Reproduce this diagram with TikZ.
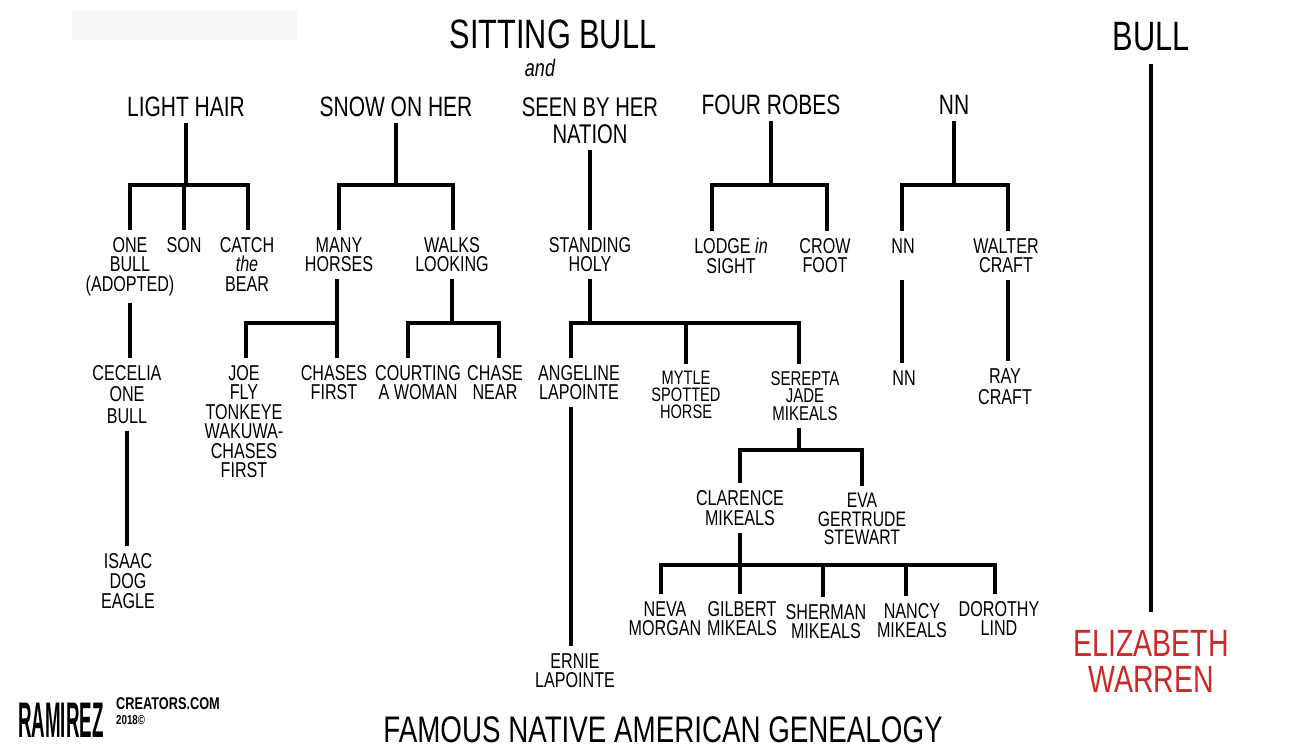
\documentclass[tikz,border=0pt]{standalone}
\usepackage{fontspec}
\usepackage{graphicx}
\setmainfont{Liberation Sans}[FakeStretch=0.75]
\usetikzlibrary{positioning}
\definecolor{warrenred}{RGB}{204,42,38}
\newcommand{\titlesize}{\fontsize{41}{41}\selectfont}
\newcommand{\eldersize}{\fontsize{28}{25}\selectfont}
\newcommand{\kinsize}{\fontsize{21.5}{19.5}\selectfont}
\tikzset{
  bond/.style={line width=4pt},
  headline/.style={font=\titlesize, anchor=north, inner sep=0pt},
  elder/.style={font=\eldersize, align=center, anchor=north, inner xsep=1pt, inner ysep=6pt},
  kin/.style={font=\kinsize, align=center, anchor=north, inner xsep=1pt, inner ysep=7pt},
}

\begin{document}
\begin{tikzpicture}[x=1pt,y=-1pt]
\useasboundingbox (0,0) rectangle (1309,748);
\fill[black!3] (72,10) rectangle (297,40);

\node[headline] (sitting) at (553,20) {SITTING BULL};
\node[font=\fontsize{24}{24}\selectfont\itshape] (and) at (540,68) {and};
\node[headline,inner ysep=13pt] (bull) at (1151,9) {BULL};
\node[headline,inner ysep=18pt,font=\fontsize{38}{36}\selectfont,align=center,text=warrenred] (warren) at (1151,612) {ELIZABETH\\WARREN};
\draw[bond] (bull.south) -- (warren.north);

\node[elder] (lighthair) at (186,91) {LIGHT HAIR};
\node[elder] (snow) at (396,91) {SNOW ON HER};
\node[elder,font=\fontsize{27}{27}\selectfont] (seen) at (590,91) {SEEN BY HER\\NATION};
\node[elder] (fourrobes) at (771,89) {FOUR ROBES};
\node[elder] (nn) at (954,89) {NN};

\node[kin] (onebull) at (130,230) {ONE\\BULL\\(ADOPTED)};
\node[kin] (son) at (184,230) {SON};
\node[kin] (catch) at (247,230) {CATCH\\\textit{the}\\BEAR};
\node[kin] (many) at (339,230) {MANY\\HORSES};
\node[kin] (walks) at (452,230) {WALKS\\LOOKING};
\node[kin] (standing) at (590,230) {STANDING\\HOLY};
\node[kin] (lodge) at (731,231) {LODGE \textit{in}\\SIGHT};
\node[kin] (crow) at (825,231) {CROW\\FOOT};
\node[kin] (nn2) at (903,231) {NN};
\node[kin] (walter) at (1006,231) {WALTER\\CRAFT};

\node[kin,font=\fontsize{21.5}{21.5}\selectfont] (cecelia) at (127,358) {CECELIA\\ONE\\BULL};
\node[kin,font=\fontsize{21.5}{20}\selectfont] (isaac) at (128,546) {ISAAC\\DOG\\EAGLE};
\node[kin] (joe) at (244,358) {JOE\\FLY\\TONKEYE\\WAKUWA-\\CHASES\\FIRST};
\node[kin] (chasesfirst) at (334,358) {CHASES\\FIRST};
\node[kin] (courting) at (418,358) {COURTING\\A WOMAN};
\node[kin] (chasenear) at (495,358) {CHASE\\NEAR};
\node[kin] (angeline) at (579,358) {ANGELINE\\LAPOINTE};
\node[kin] (ernie) at (575,646) {ERNIE\\LAPOINTE};
\node[kin,font=\fontsize{19.5}{17}\selectfont] (mytle) at (686,364) {MYTLE\\SPOTTED\\HORSE};
\node[kin,font=\fontsize{20}{17.5}\selectfont] (serepta) at (805,364) {SEREPTA\\JADE\\MIKEALS};
\node[kin] (nn3) at (904,363) {NN};
\node[kin,font=\fontsize{21.5}{21}\selectfont] (ray) at (1005,361) {RAY\\CRAFT};

\node[kin,font=\fontsize{21.5}{20}\selectfont] (clarence) at (740,483) {CLARENCE\\MIKEALS};
\node[kin,font=\fontsize{21}{18.5}\selectfont] (eva) at (862,486) {EVA\\GERTRUDE\\STEWART};

\node[kin] (neva) at (665,594) {NEVA\\MORGAN};
\node[kin] (gilbert) at (742,594) {GILBERT\\MIKEALS};
\node[kin] (sherman) at (826,597) {SHERMAN\\MIKEALS};
\node[kin] (nancy) at (912,596) {NANCY\\MIKEALS};
\node[kin] (dorothy) at (999,594) {DOROTHY\\LIND};

\coordinate (lhL) at (130,185);
\coordinate (lhR) at (248,185);
\draw[bond] (lighthair.south) -- (lighthair.south |- lhL);
\draw[bond] (lhL |- onebull.north) -- (lhL) -- (lhR) -- (lhR |- catch.north);
\draw[bond] (son.north) -- (son.north |- lhL);
\draw[bond] (onebull.south) -- (onebull.south |- cecelia.north);
\draw[bond] (cecelia.south) -- (cecelia.south |- isaac.north);

\coordinate (snL) at (339,185);
\coordinate (snR) at (453,185);
\draw[bond] (snow.south) -- (snow.south |- snL);
\draw[bond] (snL |- many.north) -- (snL) -- (snR) -- (snR |- walks.north);

\coordinate (mhL) at (246,323);
\coordinate (mhR) at (337,323);
\draw[bond] (mhR |- many.south) -- (mhR);
\draw[bond] (mhL |- joe.north) -- (mhL) -- (mhR) -- (mhR |- chasesfirst.north);

\coordinate (wlL) at (408,323);
\coordinate (wlR) at (499,323);
\draw[bond] (walks.south) -- (walks.south |- wlL);
\draw[bond] (wlL |- courting.north) -- (wlL) -- (wlR) -- (wlR |- chasenear.north);

\draw[bond] (seen.south) -- (standing.north);
\coordinate (shL) at (571,323);
\coordinate (shM) at (686,323);
\coordinate (shR) at (799,323);
\draw[bond] (standing.south) -- (standing.south |- shL);
\draw[bond] (shL |- angeline.north) -- (shL) -- (shR) -- (shR |- serepta.north);
\draw[bond] (shM) -- (shM |- mytle.north);
\draw[bond] (shL |- angeline.south) -- (shL |- ernie.north);

\coordinate (sjL) at (740,450);
\coordinate (sjR) at (862,450);
\draw[bond] (shR |- serepta.south) -- (shR |- sjL);
\draw[bond] (sjL |- clarence.north) -- (sjL) -- (sjR) -- (sjR |- eva.north);

\coordinate (cm1) at (661,565);
\coordinate (cm2) at (740,565);
\coordinate (cm3) at (823,565);
\coordinate (cm4) at (906,565);
\coordinate (cm5) at (995,565);
\draw[bond] (clarence.south) -- (cm2);
\draw[bond] (cm1 |- neva.north) -- (cm1) -- (cm5) -- (cm5 |- dorothy.north);
\draw[bond] (cm2) -- (cm2 |- gilbert.north);
\draw[bond] (cm3) -- (cm3 |- sherman.north);
\draw[bond] (cm4) -- (cm4 |- nancy.north);

\coordinate (frL) at (712,185);
\coordinate (frR) at (827,185);
\draw[bond] (fourrobes.south) -- (fourrobes.south |- frL);
\draw[bond] (frL |- lodge.north) -- (frL) -- (frR) -- (frR |- crow.north);

\coordinate (nbL) at (902,185);
\coordinate (nbR) at (1008,185);
\draw[bond] (nn.south) -- (nn.south |- nbL);
\draw[bond] (nbL |- nn2.north) -- (nbL) -- (nbR) -- (nbR |- walter.north);
\draw[bond] (nbL |- walter.south) -- (nbL |- nn3.north);
\draw[bond] (nbR |- walter.south) -- (nbR |- ray.north);

\node[font=\fontsize{37}{37}\selectfont,anchor=north,inner sep=0pt] (famous) at (663,716) {FAMOUS NATIVE AMERICAN GENEALOGY};
\node[font=\fontsize{25}{25}\selectfont\bfseries,anchor=south west,inner sep=0pt] (ramirez) at (18,738) {\scalebox{1}[2]{RAMIREZ}};
\node[font=\fontsize{17}{17}\selectfont\bfseries,anchor=north west,inner sep=0pt] (creators) at (116,697) {CREATORS.COM};
\node[font=\fontsize{13}{13}\selectfont\bfseries,below=6pt of creators.south west,anchor=north west,inner sep=0pt] (year) {2018\textcopyright};
\end{tikzpicture}
\end{document}
